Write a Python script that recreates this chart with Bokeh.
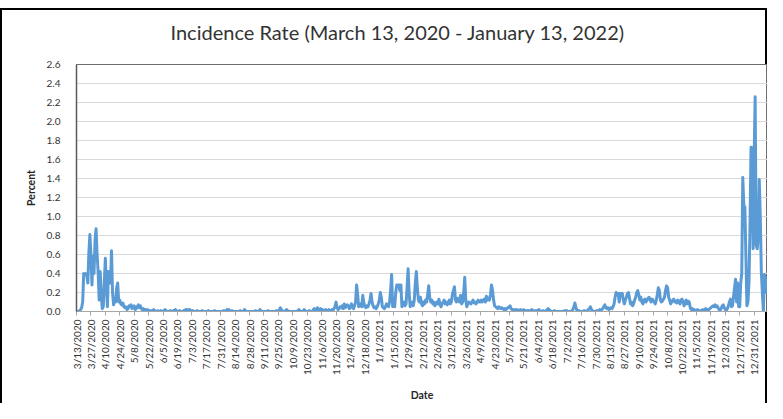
import math
import pandas as pd
from bokeh.plotting import figure
from bokeh.models import Range1d, FixedTicker, NumeralTickFormatter, ColumnDataSource
from bokeh.embed import file_html
from bokeh.resources import INLINE

title_text = "Incidence Rate (March 13, 2020 - January 13, 2022)"
start_date = "2020-03-13"
end_date = "2022-01-13"

tick_labels = [
    "3/13/2020", "3/27/2020", "4/10/2020", "4/24/2020", "5/8/2020", "5/22/2020",
    "6/5/2020", "6/19/2020", "7/3/2020", "7/17/2020", "7/31/2020", "8/14/2020",
    "8/28/2020", "9/11/2020", "9/25/2020", "10/9/2020", "10/23/2020", "11/6/2020",
    "11/20/2020", "12/4/2020", "12/18/2020", "1/1/2021", "1/15/2021", "1/29/2021",
    "2/12/2021", "2/26/2021", "3/12/2021", "3/26/2021", "4/9/2021", "4/23/2021",
    "5/7/2021", "5/21/2021", "6/4/2021", "6/18/2021", "7/2/2021", "7/16/2021",
    "7/30/2021", "8/13/2021", "8/27/2021", "9/10/2021", "9/24/2021", "10/8/2021",
    "10/22/2021", "11/5/2021", "11/19/2021", "12/3/2021", "12/17/2021", "12/31/2021",
]

y_ticks = [0.0, 0.2, 0.4, 0.6, 0.8, 1.0, 1.2, 1.4, 1.6, 1.8, 2.0, 2.2, 2.4, 2.6]

# daily incidence rate (percent), one row per two weeks
rate = [
    0.00, 0.00, 0.00, 0.01, 0.02, 0.04, 0.10, 0.40, 0.39, 0.40, 0.38, 0.30, 0.62, 0.81,
    0.60, 0.28, 0.58, 0.40, 0.75, 0.87, 0.60, 0.42, 0.12, 0.42, 0.20, 0.03, 0.05, 0.30,
    0.56, 0.30, 0.05, 0.42, 0.40, 0.30, 0.64, 0.20, 0.07, 0.12, 0.10, 0.25, 0.30, 0.10,
    0.12, 0.08, 0.07, 0.09, 0.05, 0.04, 0.05, 0.02, 0.03, 0.06, 0.05, 0.07, 0.03, 0.05,
    0.06, 0.02, 0.03, 0.05, 0.07, 0.04, 0.06, 0.03, 0.02, 0.03, 0.01, 0.02, 0.01, 0.02,
    0.01, 0.00, 0.01, 0.00, 0.01, 0.02, 0.01, 0.00, 0.00, 0.01, 0.00, 0.00, 0.01, 0.00,
    0.00, 0.01, 0.02, 0.01, 0.00, 0.00, 0.00, 0.01, 0.00, 0.00, 0.01, 0.00, 0.02, 0.01,
    0.00, 0.00, 0.01, 0.00, 0.00, 0.00, 0.01, 0.00, 0.02, 0.01, 0.02, 0.00, 0.02, 0.01,
    0.00, 0.01, 0.00, 0.00, 0.00, 0.01, 0.00, 0.00, 0.00, 0.00, 0.01, 0.00, 0.00, 0.00,
    0.00, 0.00, 0.01, 0.00, 0.00, 0.00, 0.00, 0.00, 0.01, 0.00, 0.00, 0.00, 0.00, 0.00,
    0.00, 0.00, 0.00, 0.01, 0.00, 0.00, 0.02, 0.01, 0.02, 0.00, 0.00, 0.01, 0.00, 0.00,
    0.00, 0.00, 0.00, 0.00, 0.00, 0.01, 0.00, 0.00, 0.00, 0.02, 0.01, 0.00, 0.00, 0.00,
    0.00, 0.00, 0.00, 0.00, 0.00, 0.00, 0.01, 0.00, 0.00, 0.00, 0.02, 0.01, 0.00, 0.00,
    0.00, 0.00, 0.00, 0.00, 0.01, 0.00, 0.00, 0.00, 0.00, 0.00, 0.00, 0.00, 0.01, 0.00,
    0.00, 0.02, 0.04, 0.02, 0.00, 0.00, 0.00, 0.01, 0.02, 0.01, 0.00, 0.00, 0.00, 0.00,
    0.00, 0.00, 0.00, 0.00, 0.00, 0.01, 0.02, 0.01, 0.00, 0.00, 0.00, 0.02, 0.01, 0.00,
    0.00, 0.00, 0.01, 0.00, 0.00, 0.00, 0.02, 0.03, 0.01, 0.02, 0.04, 0.01, 0.02, 0.03,
    0.01, 0.02, 0.00, 0.01, 0.02, 0.00, 0.01, 0.02, 0.01, 0.00, 0.02, 0.01, 0.03, 0.05,
    0.10, 0.04, 0.02, 0.03, 0.05, 0.04, 0.06, 0.03, 0.08, 0.04, 0.05, 0.07, 0.06, 0.03,
    0.04, 0.08, 0.05, 0.03, 0.06, 0.10, 0.28, 0.18, 0.05, 0.06, 0.08, 0.05, 0.17, 0.09,
    0.05, 0.04, 0.06, 0.05, 0.08, 0.12, 0.19, 0.10, 0.06, 0.04, 0.05, 0.03, 0.05, 0.08,
    0.12, 0.20, 0.15, 0.05, 0.04, 0.03, 0.05, 0.08, 0.06, 0.05, 0.10, 0.22, 0.39, 0.05,
    0.10, 0.05, 0.20, 0.28, 0.27, 0.28, 0.22, 0.28, 0.05, 0.08, 0.10, 0.06, 0.08, 0.25,
    0.45, 0.20, 0.05, 0.08, 0.10, 0.06, 0.12, 0.30, 0.42, 0.25, 0.12, 0.10, 0.15, 0.08,
    0.06, 0.10, 0.08, 0.12, 0.10, 0.18, 0.27, 0.15, 0.10, 0.12, 0.08, 0.10, 0.06, 0.08,
    0.10, 0.08, 0.13, 0.07, 0.05, 0.08, 0.10, 0.12, 0.08, 0.10, 0.07, 0.09, 0.12, 0.08,
    0.10, 0.18, 0.22, 0.26, 0.12, 0.10, 0.14, 0.12, 0.10, 0.17, 0.08, 0.10, 0.20, 0.36,
    0.12, 0.05, 0.08, 0.10, 0.09, 0.08, 0.10, 0.12, 0.09, 0.10, 0.08, 0.10, 0.12, 0.10,
    0.10, 0.12, 0.10, 0.12, 0.13, 0.10, 0.16, 0.12, 0.14, 0.12, 0.18, 0.28, 0.22, 0.12,
    0.06, 0.05, 0.04, 0.03, 0.05, 0.04, 0.03, 0.04, 0.03, 0.02, 0.03, 0.02, 0.03, 0.04,
    0.05, 0.06, 0.03, 0.02, 0.02, 0.01, 0.02, 0.01, 0.02, 0.01, 0.01, 0.02, 0.01, 0.01,
    0.02, 0.01, 0.01, 0.00, 0.01, 0.01, 0.00, 0.01, 0.02, 0.01, 0.00, 0.01, 0.00, 0.01,
    0.01, 0.02, 0.01, 0.00, 0.00, 0.01, 0.00, 0.00, 0.01, 0.02, 0.03, 0.02, 0.01, 0.00,
    0.00, 0.00, 0.01, 0.00, 0.00, 0.00, 0.00, 0.00, 0.00, 0.00, 0.00, 0.00, 0.01, 0.00,
    0.01, 0.00, 0.00, 0.00, 0.00, 0.01, 0.02, 0.05, 0.09, 0.04, 0.01, 0.00, 0.01, 0.00,
    0.00, 0.00, 0.00, 0.01, 0.00, 0.00, 0.01, 0.02, 0.03, 0.05, 0.02, 0.01, 0.00, 0.00,
    0.00, 0.01, 0.00, 0.01, 0.02, 0.01, 0.02, 0.03, 0.05, 0.07, 0.04, 0.03, 0.04, 0.02,
    0.03, 0.04, 0.03, 0.05, 0.08, 0.15, 0.20, 0.18, 0.19, 0.10, 0.19, 0.18, 0.19, 0.12,
    0.08, 0.12, 0.15, 0.19, 0.20, 0.14, 0.08, 0.10, 0.06, 0.08, 0.12, 0.15, 0.20, 0.22,
    0.18, 0.12, 0.15, 0.10, 0.08, 0.12, 0.13, 0.10, 0.12, 0.14, 0.15, 0.12, 0.10, 0.13,
    0.12, 0.10, 0.08, 0.12, 0.18, 0.25, 0.22, 0.12, 0.10, 0.11, 0.13, 0.15, 0.22, 0.27,
    0.25, 0.15, 0.12, 0.08, 0.10, 0.12, 0.13, 0.10, 0.11, 0.09, 0.12, 0.10, 0.08, 0.12,
    0.13, 0.10, 0.06, 0.10, 0.12, 0.08, 0.11, 0.10, 0.04, 0.02, 0.03, 0.01, 0.02, 0.01,
    0.01, 0.02, 0.01, 0.01, 0.00, 0.01, 0.02, 0.01, 0.02, 0.03, 0.02, 0.01, 0.02, 0.03,
    0.04, 0.05, 0.06, 0.05, 0.07, 0.05, 0.06, 0.04, 0.02, 0.01, 0.03, 0.06, 0.07, 0.04,
    0.02, 0.01, 0.03, 0.06, 0.10, 0.13, 0.05, 0.06, 0.15, 0.25, 0.34, 0.10, 0.30, 0.05,
    0.05, 0.30, 0.40, 1.41, 1.12, 1.10, 0.60, 0.06, 0.10, 0.30, 0.90, 1.73, 1.72, 0.66,
    1.60, 2.26, 0.70, 0.66, 0.80, 1.39, 1.00, 0.42, 0.20, 0.00, 0.39, 0.25, 0.20, 0.36,
]

dates = pd.date_range(start_date, end_date, freq="D")
n = min(len(dates), len(rate))
day_index = [(d - dates[0]).days for d in dates[:n]]
source = ColumnDataSource(data=dict(day=day_index, rate=rate[:n]))

tick_pos = [(pd.to_datetime(t, format="%m/%d/%Y") - dates[0]).days for t in tick_labels]

p = figure(
    width=767, height=403,
    x_range=Range1d(0, (dates[-1] - dates[0]).days),
    y_range=Range1d(y_ticks[0], y_ticks[-1]),
    output_backend="svg", toolbar_location=None,
    min_border_left=76, min_border_right=0, min_border_top=63, min_border_bottom=87,
    background_fill_color="white", border_fill_color=None,
)
# thin black chart-area frame (top, left, right) painted behind the transparent canvas border
p.styles = {
    "background": (
        "linear-gradient(#000, #000) 0 8px / 100% 2px no-repeat, "
        "linear-gradient(#000, #000) 0 8px / 2px 100% no-repeat, "
        "linear-gradient(#000, #000) 100% 8px / 2px 100% no-repeat, "
        "#ffffff"
    )
}

p.line("day", "rate", source=source, line_color="#5B9BD5", line_width=3, line_join="round")

p.outline_line_color = "#6e6e6e"
p.outline_line_width = 1

p.xgrid.grid_line_color = None
p.ygrid.grid_line_color = "#d9d9d9"
p.ygrid.grid_line_width = 1

# title
p.title.text = title_text
p.title.align = "left"
p.title.offset = 94
p.title.vertical_align = "top"
p.title.text_font = "Lato"
p.title.text_font_style = "normal"
p.title.text_font_size = "20px"
p.title.text_color = "#333333"
p.title.standoff = 38

# y axis
p.yaxis.ticker = FixedTicker(ticks=y_ticks)
p.yaxis.formatter = NumeralTickFormatter(format="0.0")
p.yaxis.major_tick_line_color = None
p.yaxis.minor_tick_line_color = None
p.yaxis.axis_line_color = "#595959"
p.yaxis.axis_line_width = 1.5
p.yaxis.major_label_standoff = 10
p.yaxis.major_label_text_font = "Lato"
p.yaxis.major_label_text_font_size = "10px"
p.yaxis.major_label_text_color = "#333333"
p.yaxis.axis_label = "Percent"
p.yaxis.axis_label_text_font = "Lato"
p.yaxis.axis_label_text_font_style = "bold"
p.yaxis.axis_label_text_font_size = "10.5px"
p.yaxis.axis_label_text_color = "#262626"
p.yaxis.axis_label_standoff = 7

# x axis
p.xaxis.ticker = FixedTicker(ticks=tick_pos)
p.xaxis.major_label_overrides = {pos: lab for pos, lab in zip(tick_pos, tick_labels)}
p.xaxis.major_label_orientation = math.pi / 2
p.xaxis.major_tick_out = 4
p.xaxis.major_tick_in = 0
p.xaxis.major_tick_line_color = "#a6a6a6"
p.xaxis.minor_tick_line_color = None
p.xaxis.axis_line_color = "#a6a6a6"
p.xaxis.major_label_standoff = 4
p.xaxis.major_label_text_font = "Lato"
p.xaxis.major_label_text_font_size = "10px"
p.xaxis.major_label_text_color = "#333333"
p.xaxis.axis_label = "Date"
p.xaxis.axis_label_text_font = "Lato"
p.xaxis.axis_label_text_font_style = "bold"
p.xaxis.axis_label_text_font_size = "10.5px"
p.xaxis.axis_label_text_color = "#262626"
p.xaxis.axis_label_standoff = 11

open("out.html", "w").write(file_html(p, INLINE))
